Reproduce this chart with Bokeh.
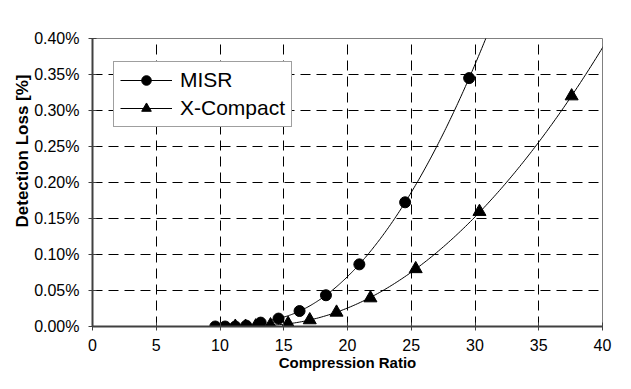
import numpy as np
from bokeh.plotting import figure
from bokeh.models import Legend, LegendItem, FixedTicker, PrintfTickFormatter, Range1d, Title
from bokeh.embed import file_html
from bokeh.resources import INLINE

# Data (detection loss in percent)
misr_x = [9.63, 10.4, 11.2, 12.06, 13.19, 14.59, 16.24, 18.31, 20.93, 24.52, 29.54]
misr_y = [0.0, 0.0, 0.0, 0.0012, 0.0054, 0.0110, 0.0215, 0.0434, 0.0863, 0.1725, 0.3450]
xc_x = [11.2, 12.0, 12.8, 13.96, 15.34, 17.04, 19.14, 21.8, 25.35, 30.35, 37.58]
xc_y = [0.0, 0.0, 0.0005, 0.0020, 0.0040, 0.0090, 0.0196, 0.0395, 0.0800, 0.1595, 0.3200]

# trendline (2nd-order polynomial, as in the source chart) fit ranges
misr_fit_from, misr_trend_to = 14.0, 30.95
xc_fit_from, xc_trend_to = 13.9, 40.4
trend_start = 14.0

x_ticks = [0, 5, 10, 15, 20, 25, 30, 35, 40]
y_ticks = [0.0, 0.05, 0.10, 0.15, 0.20, 0.25, 0.30, 0.35, 0.40]
x_title = "Compression Ratio"
y_title = "Detection Loss [%]"

def trend(xs, ys, x_from, x_to):
    xs = np.asarray(xs); ys = np.asarray(ys)
    m = xs >= x_from
    c = np.polyfit(xs[m], ys[m], 2)
    tx = np.linspace(trend_start, x_to, 200)
    return tx, np.polyval(c, tx)

mt_x, mt_y = trend(misr_x, misr_y, misr_fit_from, misr_trend_to)
xt_x, xt_y = trend(xc_x, xc_y, xc_fit_from, xc_trend_to)

p = figure(width=615, height=373, output_backend="svg", toolbar_location=None,
           x_range=Range1d(0, 40), y_range=Range1d(0, 0.40),
           min_border_left=92, min_border_right=13, min_border_top=38, min_border_bottom=47)
p.background_fill_color = "white"
p.border_fill_color = "white"
p.outline_line_color = "#808080"
p.outline_line_width = 1

for ax in (p.xaxis[0], p.yaxis[0]):
    ax.axis_line_color = "#404040"
    ax.axis_line_width = 2
    ax.major_tick_line_color = "#404040"
    ax.major_tick_in = 4
    ax.major_tick_out = 4
    ax.minor_tick_line_color = None
    ax.major_label_text_font = "Liberation Sans"
    ax.major_label_text_font_size = "16px"
    ax.major_label_text_color = "black"

p.xaxis.ticker = FixedTicker(ticks=x_ticks)
p.yaxis.ticker = FixedTicker(ticks=y_ticks)
p.yaxis.formatter = PrintfTickFormatter(format="%.2f%%")
p.xaxis.major_label_standoff = 8
p.yaxis.major_label_standoff = 9

p.xaxis.axis_label = x_title
p.xaxis.axis_label_standoff = 0
p.xaxis.axis_label_text_font = "Liberation Sans"
p.xaxis.axis_label_text_font_style = "bold"
p.xaxis.axis_label_text_font_size = "15px"
p.xaxis.axis_label_text_color = "black"

yt = Title(text=y_title, align="right", offset=36, standoff=0,
           text_font="Liberation Sans", text_font_style="bold", text_font_size="17px",
           text_color="black")
p.add_layout(yt, "left")

for g in (p.xgrid[0], p.ygrid[0]):
    g.grid_line_color = "black"
    g.grid_line_dash = "10 6"
    g.grid_line_width = 1

l1 = p.line(mt_x, mt_y, line_color="black", line_width=1)
l2 = p.line(xt_x, xt_y, line_color="black", line_width=1)
s1 = p.scatter(misr_x, misr_y, marker="circle", size=11, fill_color="black", line_color="black")
s2 = p.scatter(xc_x, xc_y, marker="triangle", size=13, fill_color="black", line_color="black")

# legend proxies
lm = p.line([0], [-1], line_color="black", line_width=1)
lt = p.line([0], [-1], line_color="black", line_width=1)
legend = Legend(items=[LegendItem(label="MISR", renderers=[lm, s1]),
                       LegendItem(label="X-Compact", renderers=[lt, s2])],
                location=(21, 199))
legend.label_text_font = "Liberation Sans"
legend.label_text_font_size = "21px"
legend.label_text_color = "black"
legend.border_line_color = "#404040"
legend.border_line_width = 1
legend.background_fill_alpha = 1
legend.glyph_width = 52
legend.glyph_height = 24
legend.label_height = 24
legend.padding = 6
legend.spacing = 4
legend.label_standoff = 8
legend.margin = 0
p.add_layout(legend, "center")

open("out.html", "w").write(file_html(p, INLINE))
